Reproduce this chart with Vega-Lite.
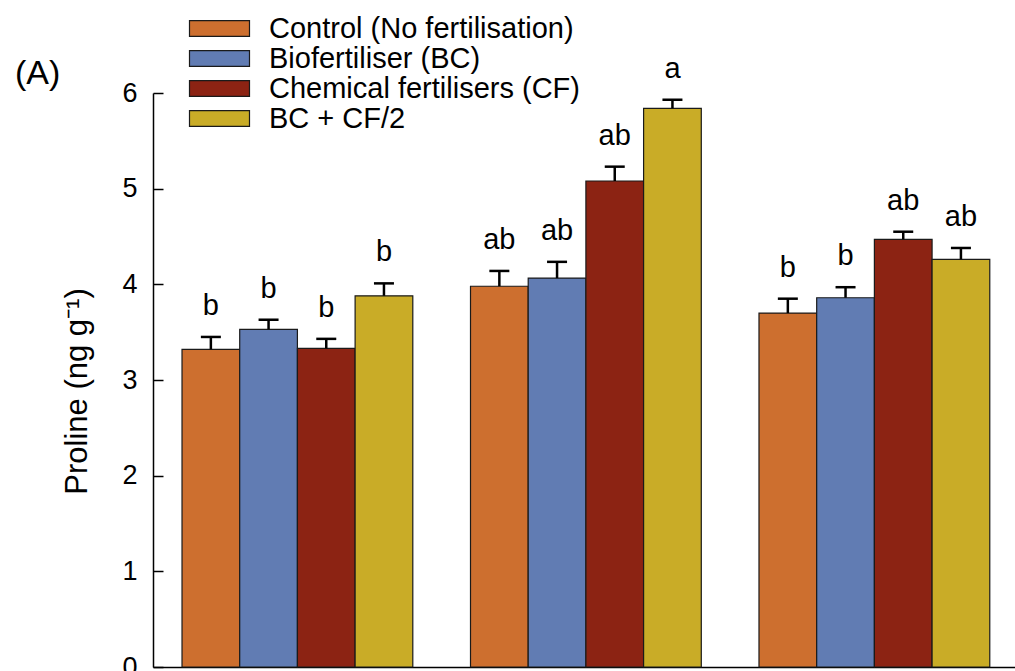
{
  "$schema": "https://vega.github.io/schema/vega-lite/v6.json",
  "width": 862,
  "height": 574,
  "autosize": {"type": "none"},
  "padding": {"left": 153, "top": 93, "right": 0, "bottom": 4},
  "background": "white",
  "config": {
    "font": "Liberation Sans",
    "view": {"stroke": null},
    "legend": {
      "orient": "none",
      "legendX": 52,
      "legendY": -79,
      "padding": 0,
      "symbolType": "M-3,-0.785H3V0.785H-3Z",
      "symbolSize": 400,
      "symbolStrokeColor": "#1a1a1a",
      "symbolStrokeWidth": 1.2,
      "symbolOpacity": 1,
      "labelFont": "Liberation Sans",
      "labelFontSize": 29,
      "labelColor": "black",
      "labelOffset": 35,
      "labelLimit": 600,
      "rowPadding": -4
    }
  },
  "title": {
    "text": "(A)",
    "orient": "top",
    "anchor": "start",
    "frame": "group",
    "offset": 0,
    "baseline": "alphabetic",
    "font": "Liberation Sans",
    "fontSize": 34,
    "fontWeight": "normal",
    "color": "black",
    "dx": -138,
    "dy": 104
  },
  "data": {
    "values": [
      {"period": "Stage 1", "treatment": "Control (No fertilisation)", "mean": 3.32, "upper": 3.45, "letter": "b"},
      {"period": "Stage 1", "treatment": "Biofertiliser (BC)", "mean": 3.53, "upper": 3.63, "letter": "b"},
      {"period": "Stage 1", "treatment": "Chemical fertilisers (CF)", "mean": 3.33, "upper": 3.43, "letter": "b"},
      {"period": "Stage 1", "treatment": "BC + CF/2", "mean": 3.88, "upper": 4.01, "letter": "b"},
      {"period": "Stage 2", "treatment": "Control (No fertilisation)", "mean": 3.98, "upper": 4.14, "letter": "ab"},
      {"period": "Stage 2", "treatment": "Biofertiliser (BC)", "mean": 4.065, "upper": 4.235, "letter": "ab"},
      {"period": "Stage 2", "treatment": "Chemical fertilisers (CF)", "mean": 5.08, "upper": 5.23, "letter": "ab"},
      {"period": "Stage 2", "treatment": "BC + CF/2", "mean": 5.84, "upper": 5.93, "letter": "a"},
      {"period": "Stage 3", "treatment": "Control (No fertilisation)", "mean": 3.7, "upper": 3.85, "letter": "b"},
      {"period": "Stage 3", "treatment": "Biofertiliser (BC)", "mean": 3.86, "upper": 3.97, "letter": "b"},
      {"period": "Stage 3", "treatment": "Chemical fertilisers (CF)", "mean": 4.47, "upper": 4.55, "letter": "ab"},
      {"period": "Stage 3", "treatment": "BC + CF/2", "mean": 4.26, "upper": 4.38, "letter": "ab"}
    ]
  },
  "encoding": {
    "x": {
      "field": "period",
      "type": "nominal",
      "scale": {"paddingInner": 0.2, "paddingOuter": 0.094, "align": 0.535},
      "axis": {"title": null, "labels": false, "ticks": false, "domainColor": "black", "domainWidth": 1.5}
    },
    "xOffset": {
      "field": "treatment",
      "type": "nominal",
      "scale": {
        "domain": ["Control (No fertilisation)", "Biofertiliser (BC)", "Chemical fertilisers (CF)", "BC + CF/2"],
        "paddingInner": 0,
        "paddingOuter": 0
      }
    }
  },
  "layer": [
    {
      "mark": {"type": "bar", "stroke": "#1a1a1a", "strokeWidth": 1.2},
      "encoding": {
        "y": {
          "field": "mean",
          "type": "quantitative",
          "title": "Proline (ng g⁻¹)",
          "scale": {"domain": [0, 6], "nice": false, "zero": true},
          "axis": {
            "values": [0, 1, 2, 3, 4, 5, 6],
            "format": "d",
            "domainColor": "black",
            "domainWidth": 1.5,
            "tickColor": "black",
            "tickWidth": 1.5,
            "tickSize": -10,
            "labelPadding": 26,
            "labelFontSize": 27,
            "labelColor": "black",
            "labelFont": "Liberation Sans",
            "grid": false,
            "titleFontSize": 31,
            "titleFontWeight": "normal",
            "titleColor": "black",
            "titleFont": "Liberation Sans",
            "titleAngle": -90,
            "titleBaseline": "alphabetic",
            "titleX": -67,
            "titleY": 298
          }
        },
        "fill": {
          "field": "treatment",
          "type": "nominal",
          "title": null,
          "scale": {
            "domain": ["Control (No fertilisation)", "Biofertiliser (BC)", "Chemical fertilisers (CF)", "BC + CF/2"],
            "range": ["#CD6F2F", "#617CB3", "#8C2313", "#C9AC27"]
          }
        }
      }
    },
    {
      "mark": {"type": "rule", "color": "black", "strokeWidth": 2.5},
      "encoding": {
        "y": {"field": "mean", "type": "quantitative", "title": "Proline (ng g⁻¹)"},
        "y2": {"field": "upper"}
      }
    },
    {
      "mark": {"type": "tick", "color": "black", "size": 20, "thickness": 2.5, "opacity": 1},
      "encoding": {
        "y": {"field": "upper", "type": "quantitative", "title": "Proline (ng g⁻¹)"}
      }
    },
    {
      "mark": {"type": "text", "font": "Liberation Sans", "fontSize": 29, "color": "black", "baseline": "alphabetic", "dy": -22},
      "encoding": {
        "y": {"field": "upper", "type": "quantitative", "title": "Proline (ng g⁻¹)"},
        "text": {"field": "letter"}
      }
    }
  ]
}
